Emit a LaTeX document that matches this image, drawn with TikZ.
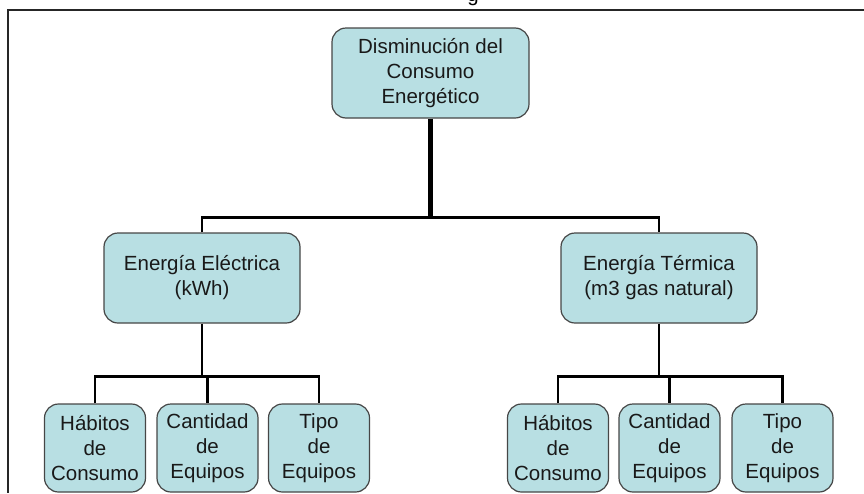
\documentclass[tikz,border=0pt]{standalone}
\usepackage{fontspec}
\setmainfont{Liberation Sans}
\usetikzlibrary{positioning}
\definecolor{boxfill}{RGB}{184,223,227}
\definecolor{boxline}{RGB}{70,70,70}

\begin{document}
\begin{tikzpicture}[x=1pt,y=-1pt,
	box/.style={rectangle, rounded corners=14pt, draw=boxline, line width=1.2pt, fill=boxfill, align=center, inner sep=0pt, font=\fontsize{20.5}{25}\selectfont, text=black!90},
	midbox/.style={box, minimum width=196pt, minimum height=90pt},
	leafbox/.style={box, minimum width=101pt, minimum height=88pt},
	link/.style={line width=2.8pt, black}]
	\useasboundingbox (0,0) rectangle (864,493);
	
	%frame
	\draw[line width=2.4pt, black!85] (864,10)--(8,10)--(8,493);	%top and left lines
	\node[anchor=base, font=\fontsize{20.5}{25}\selectfont] (title) at (473,1) {g};	%cut title
	
	%boxes
	\node[box, minimum width=197pt, minimum height=90pt] (root) at (430.5,73) {Disminución del\\Consumo\\Energético};
	\node[midbox] (elec) at (202,278) {Energía Eléctrica\\(kWh)};
	\node[midbox] (term) at (659,278) {Energía Térmica\\(m3 gas natural)};
	%
	\node[leafbox] (habE) at (95,448)    {Hábitos\\de\\Consumo};
	\node[leafbox] (cantE) at (207.5,448) {Cantidad\\de\\Equipos};
	\node[leafbox] (tipoE) at (319,448)   {Tipo\\de\\Equipos};
	%
	\node[leafbox] (habT) at (558,448)    {Hábitos\\de\\Consumo};
	\node[leafbox] (cantT) at (669.5,448) {Cantidad\\de\\Equipos};
	\node[leafbox] (tipoT) at (782.5,448) {Tipo\\de\\Equipos};
	
	%joints
	\path (root.south) ++(0,99) coordinate (jroot);
	\path (elec.south) ++(0,53) coordinate (jelec);
	\path (term.south) ++(0,53) coordinate (jterm);
	
	%connectors
	\draw[link, line width=5pt] (root.south)--(jroot);	%root stem
	\draw[link] (elec.north) |- (jroot) -| (term.north);	%top bar
	%
	\draw[link] (elec.south)--(jelec);	%left stem
	\draw[link] (habE.north) |- (jelec) -| (tipoE.north);	%left bar
	\draw[link] (jelec) -| (cantE.north);
	%
	\draw[link] (term.south)--(jterm);	%right stem
	\draw[link] (habT.north) |- (jterm) -| (tipoT.north);	%right bar
	\draw[link] (jterm) -| (cantT.north);
	
\end{tikzpicture}
\end{document}
